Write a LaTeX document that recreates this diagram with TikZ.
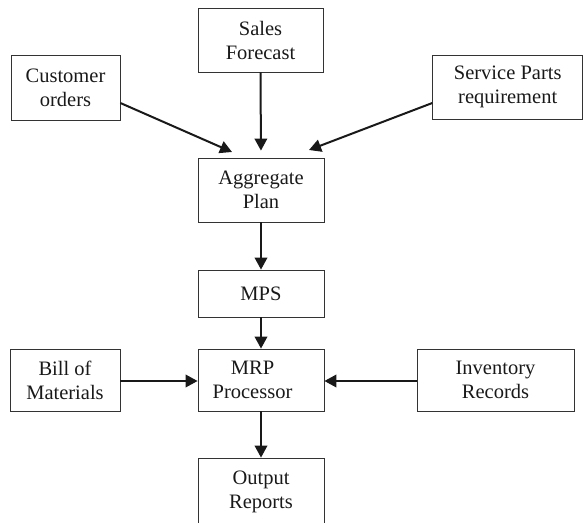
\documentclass[tikz,border=0pt]{standalone}
\usepackage{fontspec}
\setmainfont{Liberation Serif}
\usetikzlibrary{arrows.meta}
\begin{document}
\begin{tikzpicture}[x=1pt,y=-1pt,
  box/.style={draw=black!80, line width=0.8pt, align=center, inner sep=0pt,
    font=\fontsize{20.5pt}{24pt}\selectfont, text=black!90},
  flow/.style={line width=2pt, black!90, -{Triangle[length=12pt,width=12.5pt]}}]
\useasboundingbox (0,0) rectangle (583,522);
\clip (0,0) rectangle (583,522);
\node[box, minimum width=125pt, minimum height=64pt] (sales) at (260.5,40) {Sales\\Forecast};
\node[box, minimum width=109pt, minimum height=65pt] (cust) at (65.5,87.5) {Customer\\orders};
\node[box, minimum width=150pt, minimum height=64pt] (serv) at (507.7,87) {Service Parts\\requirement};
\node[box, minimum width=126pt, minimum height=64pt] (agg) at (261,190) {Aggregate\\Plan};
\node[box, minimum width=126pt, minimum height=47pt] (mps) at (261,293.5) {MPS};
\node[box, minimum width=126pt, minimum height=62pt] (mrp) at (261,380) {MRP\hspace*{17pt}\\Processor\hspace*{17pt}};
\node[box, minimum width=110pt, minimum height=62pt] (bom) at (65,380) {Bill of\\Materials};
\node[box, minimum width=157pt, minimum height=62pt] (inv) at (495.5,380) {Inventory\\Records};
\node[box, minimum width=126pt, minimum height=68pt] (out) at (261,492) {Output\\Reports};
\coordinate (ctip) at (232,152);
\coordinate (stip) at (309,150);
\draw[flow] ([yshift=-15.5pt]cust.east) -- (ctip);
\draw[flow] ([yshift=-16pt]serv.west) -- (stip);
\draw[flow, shorten >=7pt] (sales.south) -- (agg.north);
\draw[flow] (agg.south) -- (mps.north);
\draw[flow] (mps.south) -- (mrp.north);
\draw[flow] ([yshift=-1pt]bom.east) -- ([yshift=-1pt]mrp.west);
\draw[flow] ([yshift=-1pt]inv.west) -- ([yshift=-1pt]mrp.east);
\draw[flow] (mrp.south) -- (out.north);
\end{tikzpicture}
\end{document}
